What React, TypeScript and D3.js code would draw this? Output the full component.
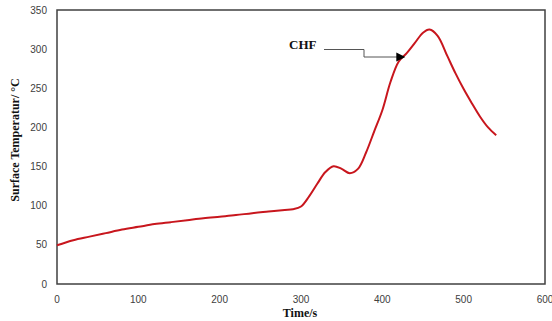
import React from "react";
import * as d3 from "d3";

const times = [0, 20, 40, 60, 80, 100, 120, 140, 160, 180, 200, 220, 240, 260, 280, 290, 300, 310, 320, 330, 340, 350, 360, 370, 380, 390, 400, 410, 420, 430, 440, 450, 458, 468, 480, 490, 500, 510, 520, 530, 540];
const temps = [49.5, 56, 60.5, 65, 69.5, 73, 76.5, 79, 81.5, 84, 86, 88, 90.5, 92.5, 94.5, 95.5, 99, 112, 128, 143, 150.5, 147, 141.5, 147, 168, 195, 222, 258, 284, 295, 308, 321, 325, 317, 291, 269, 249, 231, 214, 200, 190];
const xTicks = [0, 100, 200, 300, 400, 500, 600];
const yTicks = [0, 50, 100, 150, 200, 250, 300, 350];
const annotationLabel = "CHF";
const annotationTime = 427;
const annotationTemp = 290;

export default function App() {
  const W = 552, H = 321;
  const left = 57, right = 545, top = 10, bottom = 284;
  const x = d3.scaleLinear().domain([0, 600]).range([left, right]);
  const y = d3.scaleLinear().domain([0, 350]).range([bottom, top]);
  const data = times.map((t, i) => [t, temps[i]] as [number, number]);
  const line = d3.line<[number, number]>().x(d => x(d[0])).y(d => y(d[1])).curve(d3.curveCatmullRom.alpha(0.5));
  const ax = x(annotationTime), ay = y(annotationTemp);
  const tickFont = "'Liberation Sans', Arial, sans-serif";
  const serif = "'Liberation Serif', 'Times New Roman', serif";
  return (
    <svg width={W} height={H} style={{ position: "absolute", left: 0, top: 0, background: "#fff" }}>
      <rect x={left} y={top} width={right - left} height={bottom - top} fill="none" stroke="#404040" strokeWidth={1.5} />
      {yTicks.map(v => (
        <text key={"y" + v} x={47} y={y(v)} dy="0.35em" textAnchor="end" fontFamily={tickFont} fontSize={10} fill="#404040">{v}</text>
      ))}
      {xTicks.map(v => (
        <text key={"x" + v} x={x(v)} y={303} textAnchor="middle" fontFamily={tickFont} fontSize={10} fill="#404040">{v}</text>
      ))}
      <text x={300} y={317} textAnchor="middle" fontFamily={serif} fontWeight="bold" fontSize={12} fill="#111">Time/s</text>
      <text transform={`translate(19,140) rotate(-90)`} textAnchor="middle" fontFamily={serif} fontWeight="bold" fontSize={12} fill="#111">Surface Temperatur/ °C</text>
      <path d={line(data) || ""} fill="none" stroke="#c8161d" strokeWidth={2} />
      <polyline points={`${324},${49.5} ${364},${49.5} ${364},${57} ${ax - 6},${57}`} fill="none" stroke="#555" strokeWidth={1} />
      <path d={`M${ax - 8},${52.5} L${ax + 1},${57} L${ax - 8},${61.5} Z`} fill="#000" />
      <text x={289} y={49} fontFamily={serif} fontWeight="bold" fontSize={13} fill="#111">{annotationLabel}</text>
    </svg>
  );
}
